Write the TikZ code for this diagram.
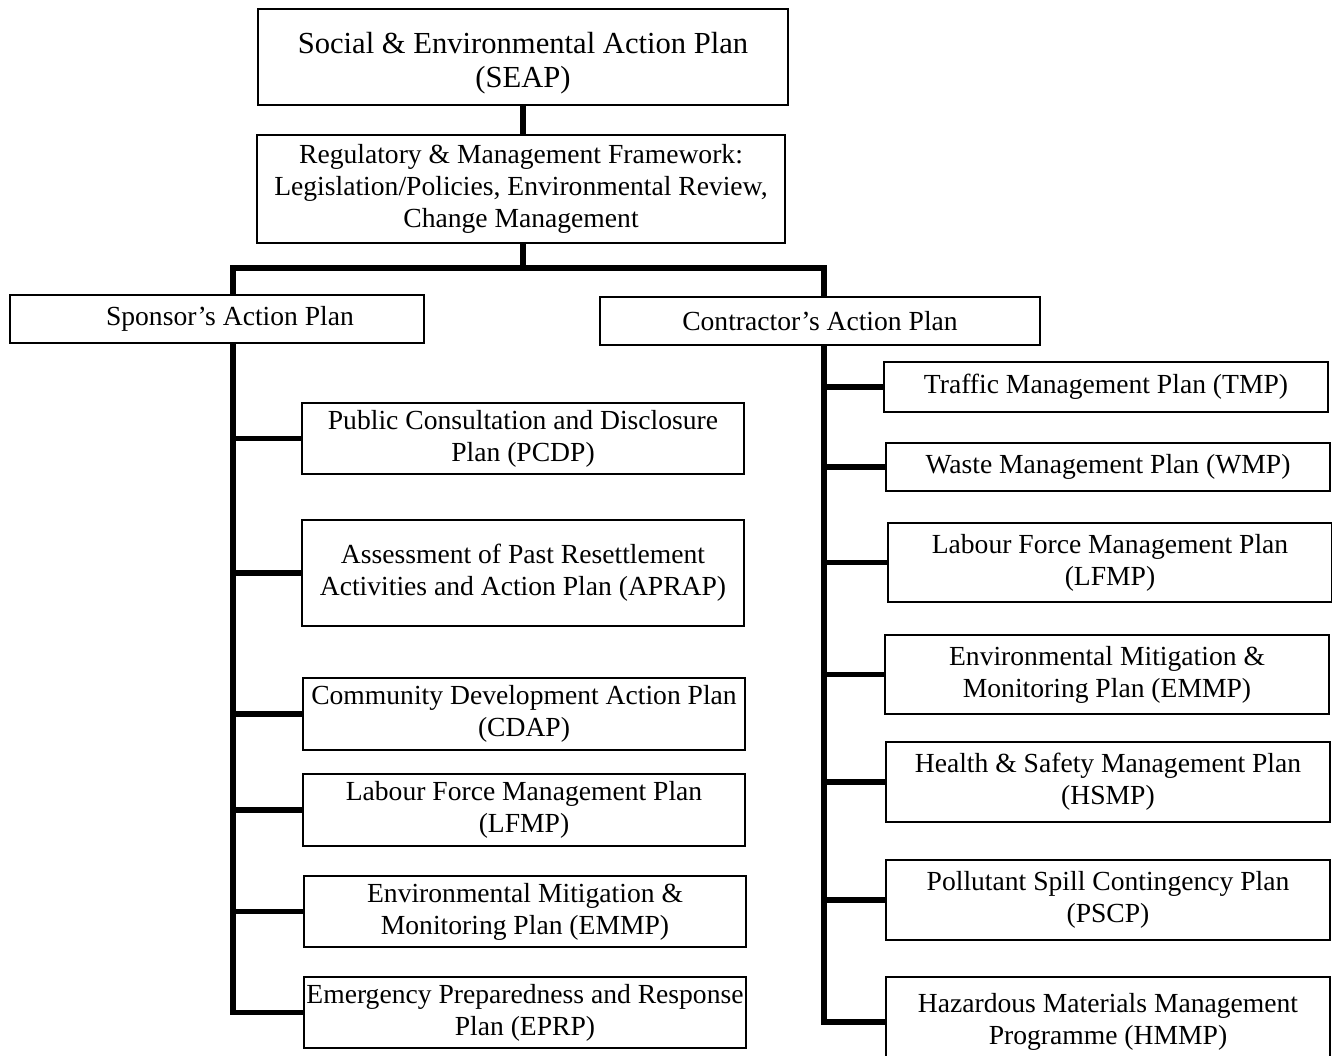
\documentclass[tikz,border=0pt]{standalone}
\usepackage{fontspec}
\setmainfont{Liberation Serif}
\tikzset{
  plan/.style={draw, line width=1pt, align=center, inner sep=1pt,
    font=\fontsize{13.8}{16}\selectfont},
  sideplan/.style={plan, minimum width=221pt},
  contplan/.style={plan, minimum width=222pt},
  bus/.style={line width=2.75pt, line join=miter},
}
\begin{document}
\begin{tikzpicture}[x=0.5pt,y=-0.5pt]
    \useasboundingbox (0,0) rectangle (1332,1055);
    % top of the chart
    \node[plan, minimum width=265pt, minimum height=48pt,
      font=\fontsize{15.3}{17}\selectfont] (seap) at (523,57)
      {\rule{0pt}{17pt}Social \& Environmental Action Plan\\(SEAP)};
    \node[plan, minimum width=264pt, minimum height=54pt] (reg) at (521,189)
      {Regulatory \& Management Framework:\\Legislation/Policies, Environmental Review,\\Change Management};
    \node[plan, minimum width=207pt, minimum height=24pt] (spon) at (217,319) {\hspace*{13pt}Sponsor’s Action Plan};
    \node[plan, minimum width=220pt, minimum height=24pt] (con) at (820,321) {Contractor’s Action Plan};
    % sponsor side
    \node[sideplan, minimum height=35.5pt] (pcdp) at (523,438.5) {Public Consultation and Disclosure\\Plan (PCDP)};
    \node[sideplan, minimum height=53pt] (aprap) at (523,573) {Assessment of Past Resettlement\\Activities and Action Plan (APRAP)};
    \node[sideplan, minimum height=36pt] (cdap) at (524,714) {Community Development Action Plan\\(CDAP)};
    \node[sideplan, minimum height=36pt] (lfmpS) at (524,810) {Labour Force Management Plan\\(LFMP)};
    \node[sideplan, minimum height=35.5pt] (emmpS) at (525,911.5) {Environmental Mitigation \&\\Monitoring Plan (EMMP)};
    \node[sideplan, minimum height=35.5pt] (eprp) at (525,1012.5) {Emergency Preparedness and Response\\Plan (EPRP)};
    % contractor side
    \node[contplan, minimum height=25pt] (tmp) at (1106,387) {Traffic Management Plan (TMP)};
    \node[contplan, minimum height=24pt] (wmp) at (1108,467) {Waste Management Plan (WMP)};
    \node[contplan, minimum height=39.5pt] (lfmpC) at (1110,562.5) {Labour Force Management Plan\\(LFMP)};
    \node[contplan, minimum height=39.5pt] (emmpC) at (1107,674.5) {Environmental Mitigation \&\\Monitoring Plan (EMMP)};
    \node[contplan, minimum height=40pt] (hsmp) at (1108,782) {Health \& Safety Management Plan\\(HSMP)};
    \node[contplan, minimum height=40pt] (pscp) at (1108,900) {Pollutant Spill Contingency Plan\\(PSCP)};
    \node[contplan, minimum height=45pt] (hmmp) at (1108,1022) {Hazardous Materials Management\\Programme (HMMP)};
    % connectors
    \coordinate (split) at (523,268);
    \coordinate (ltrunk) at (233,0);
    \coordinate (rtrunk) at (824,0);
    \draw[bus] (seap.south) -- (seap.south |- reg.north);
    \draw[bus] (reg.south -| split) -- (split);
    \draw[bus] (split) -| (ltrunk |- spon.north);
    \draw[bus] (split) -| (rtrunk |- con.north);
    \draw[bus] (ltrunk |- spon.south) |- (eprp.west);
    \foreach \p in {pcdp,aprap,cdap,lfmpS,emmpS}
        \draw[bus] (ltrunk |- \p.west) -- (\p.west);
    \draw[bus] (rtrunk |- con.south) |- (hmmp.west);
    \foreach \p in {tmp,wmp,lfmpC,emmpC,hsmp,pscp}
        \draw[bus] (rtrunk |- \p.west) -- (\p.west);
\end{tikzpicture}
\end{document}
